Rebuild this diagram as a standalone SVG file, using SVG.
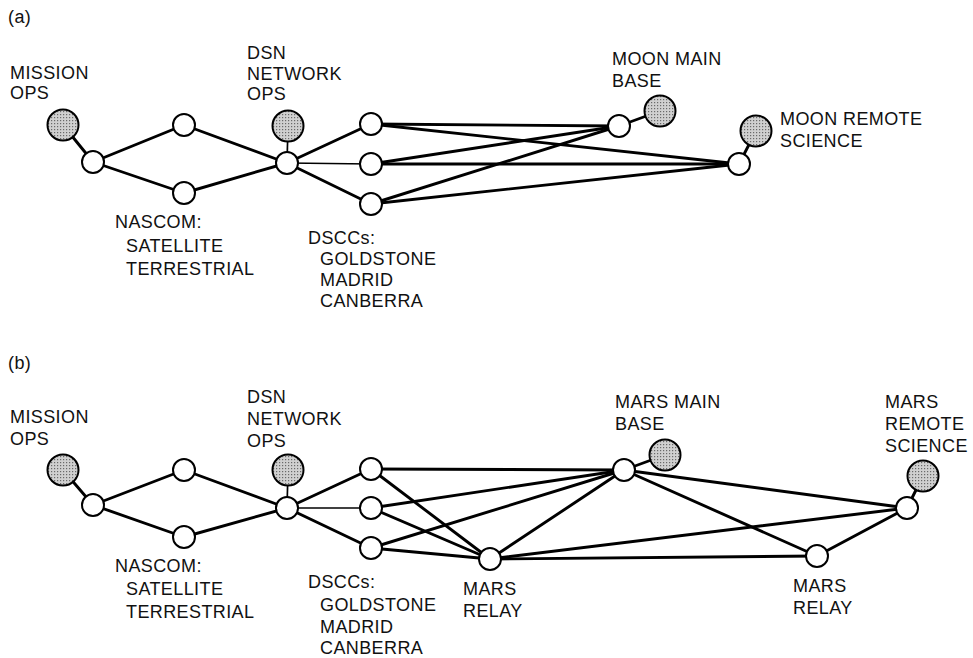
<svg xmlns="http://www.w3.org/2000/svg" width="973" height="658" viewBox="0 0 973 658">
<defs>
<pattern id="dots" width="3" height="3" patternUnits="userSpaceOnUse">
<rect width="3" height="3" fill="#d0d0d0"/>
<rect x="0" y="0" width="1.2" height="1.2" fill="#6a6a6a"/>
</pattern>
</defs>
<style>
text{font-family:"Liberation Sans",Arial,Helvetica,sans-serif;font-size:18px;letter-spacing:0.4px;fill:#111}
.n{fill:#fff;stroke:#000;stroke-width:2}
.s{fill:url(#dots);stroke:#000;stroke-width:2}
.e{stroke:#000;stroke-width:2.9;fill:none;stroke-linecap:round}
.t{stroke:#000;stroke-width:1.7;fill:none}
</style>
<rect width="973" height="658" fill="#fff"/>

<text x="8" y="23">(a)</text>
<text x="8" y="369">(b)</text>

<g id="edges-a">
<line class="e" x1="63" y1="125" x2="93" y2="162"/>
<line class="e" x1="93" y1="162" x2="184" y2="125"/>
<line class="e" x1="93" y1="162" x2="184" y2="193"/>
<line class="e" x1="184" y1="125" x2="287" y2="163"/>
<line class="e" x1="184" y1="193" x2="287" y2="163"/>
<line class="t" x1="288" y1="126" x2="287" y2="163"/>
<line class="e" x1="287" y1="163" x2="371" y2="124"/>
<line class="t" x1="287" y1="163" x2="371" y2="164"/>
<line class="e" x1="287" y1="163" x2="371" y2="204"/>
<line class="e" x1="371" y1="124" x2="619" y2="126"/>
<line class="e" x1="371" y1="124" x2="739" y2="164"/>
<line class="e" x1="371" y1="164" x2="619" y2="126"/>
<line class="e" x1="371" y1="164" x2="739" y2="164"/>
<line class="e" x1="371" y1="204" x2="619" y2="126"/>
<line class="e" x1="371" y1="204" x2="739" y2="164"/>
<line class="e" x1="619" y1="126" x2="660" y2="111"/>
<line class="e" x1="739" y1="164" x2="756" y2="131"/>
</g>

<g id="edges-b">
<line class="e" x1="63" y1="470" x2="93" y2="505"/>
<line class="e" x1="93" y1="505" x2="184" y2="470"/>
<line class="e" x1="93" y1="505" x2="184" y2="537"/>
<line class="e" x1="184" y1="470" x2="287" y2="508"/>
<line class="e" x1="184" y1="537" x2="287" y2="508"/>
<line class="t" x1="288" y1="470" x2="287" y2="508"/>
<line class="e" x1="287" y1="508" x2="371" y2="469"/>
<line class="t" x1="287" y1="508" x2="371" y2="508"/>
<line class="e" x1="287" y1="508" x2="371" y2="548"/>
<line class="e" x1="371" y1="469" x2="624" y2="470"/>
<line class="e" x1="371" y1="469" x2="490" y2="559"/>
<line class="e" x1="371" y1="508" x2="624" y2="470"/>
<line class="e" x1="371" y1="508" x2="490" y2="559"/>
<line class="e" x1="371" y1="548" x2="624" y2="470"/>
<line class="e" x1="371" y1="548" x2="490" y2="559"/>
<line class="e" x1="490" y1="559" x2="624" y2="470"/>
<line class="e" x1="490" y1="559" x2="907" y2="508"/>
<line class="e" x1="490" y1="559" x2="817" y2="556"/>
<line class="e" x1="624" y1="470" x2="907" y2="508"/>
<line class="e" x1="624" y1="470" x2="817" y2="556"/>
<line class="e" x1="817" y1="556" x2="907" y2="508"/>
<line class="e" x1="624" y1="470" x2="665" y2="455"/>
<line class="e" x1="907" y1="508" x2="923" y2="476"/>
</g>

<g id="a-mission-ops"><circle class="s" cx="63" cy="125" r="15.5"/><circle class="n" cx="93" cy="162" r="11"/>
<text x="10" y="79">MISSION</text><text x="10" y="99">OPS</text></g>
<g id="a-nascom"><circle class="n" cx="184" cy="125" r="11"/><circle class="n" cx="184" cy="193" r="11"/>
<text x="115" y="228">NASCOM:</text><text x="126" y="252">SATELLITE</text><text x="126" y="275">TERRESTRIAL</text></g>
<g id="a-dsn"><circle class="s" cx="288" cy="126" r="15.5"/><circle class="n" cx="287" cy="163" r="11"/>
<text x="247" y="59">DSN</text><text x="247" y="80">NETWORK</text><text x="247" y="100">OPS</text></g>
<g id="a-dscc"><circle class="n" cx="371" cy="124" r="11"/><circle class="n" cx="371" cy="164" r="11"/><circle class="n" cx="371" cy="204" r="11"/>
<text x="308" y="244">DSCCs:</text><text x="320" y="265">GOLDSTONE</text><text x="320" y="286">MADRID</text><text x="320" y="307">CANBERRA</text></g>
<g id="a-moon-main"><circle class="s" cx="660" cy="111" r="15.5"/><circle class="n" cx="619" cy="126" r="11"/>
<text x="612" y="65">MOON MAIN</text><text x="612" y="87">BASE</text></g>
<g id="a-moon-remote"><circle class="s" cx="756" cy="131" r="15.5"/><circle class="n" cx="739" cy="164" r="11"/>
<text x="780" y="125">MOON REMOTE</text><text x="780" y="147">SCIENCE</text></g>

<g id="b-mission-ops"><circle class="s" cx="63" cy="470" r="15.5"/><circle class="n" cx="93" cy="505" r="11"/>
<text x="10" y="423">MISSION</text><text x="10" y="445">OPS</text></g>
<g id="b-nascom"><circle class="n" cx="184" cy="470" r="11"/><circle class="n" cx="184" cy="537" r="11"/>
<text x="115" y="572">NASCOM:</text><text x="126" y="595">SATELLITE</text><text x="126" y="618">TERRESTRIAL</text></g>
<g id="b-dsn"><circle class="s" cx="288" cy="470" r="15.5"/><circle class="n" cx="287" cy="508" r="11"/>
<text x="247" y="403">DSN</text><text x="247" y="425">NETWORK</text><text x="247" y="447">OPS</text></g>
<g id="b-dscc"><circle class="n" cx="371" cy="469" r="11"/><circle class="n" cx="371" cy="508" r="11"/><circle class="n" cx="371" cy="548" r="11"/>
<text x="308" y="588">DSCCs:</text><text x="320" y="611">GOLDSTONE</text><text x="320" y="633">MADRID</text><text x="320" y="654">CANBERRA</text></g>
<g id="b-mars-relay-1"><circle class="n" cx="490" cy="559" r="11"/>
<text x="463" y="595">MARS</text><text x="463" y="617">RELAY</text></g>
<g id="b-mars-main"><circle class="s" cx="665" cy="455" r="15.5"/><circle class="n" cx="624" cy="470" r="11"/>
<text x="615" y="408">MARS MAIN</text><text x="615" y="430">BASE</text></g>
<g id="b-mars-relay-2"><circle class="n" cx="817" cy="556" r="11"/>
<text x="793" y="592">MARS</text><text x="793" y="614">RELAY</text></g>
<g id="b-mars-remote"><circle class="s" cx="923" cy="476" r="15.5"/><circle class="n" cx="907" cy="508" r="11"/>
<text x="885" y="408">MARS</text><text x="885" y="430">REMOTE</text><text x="885" y="452">SCIENCE</text></g>
</svg>
